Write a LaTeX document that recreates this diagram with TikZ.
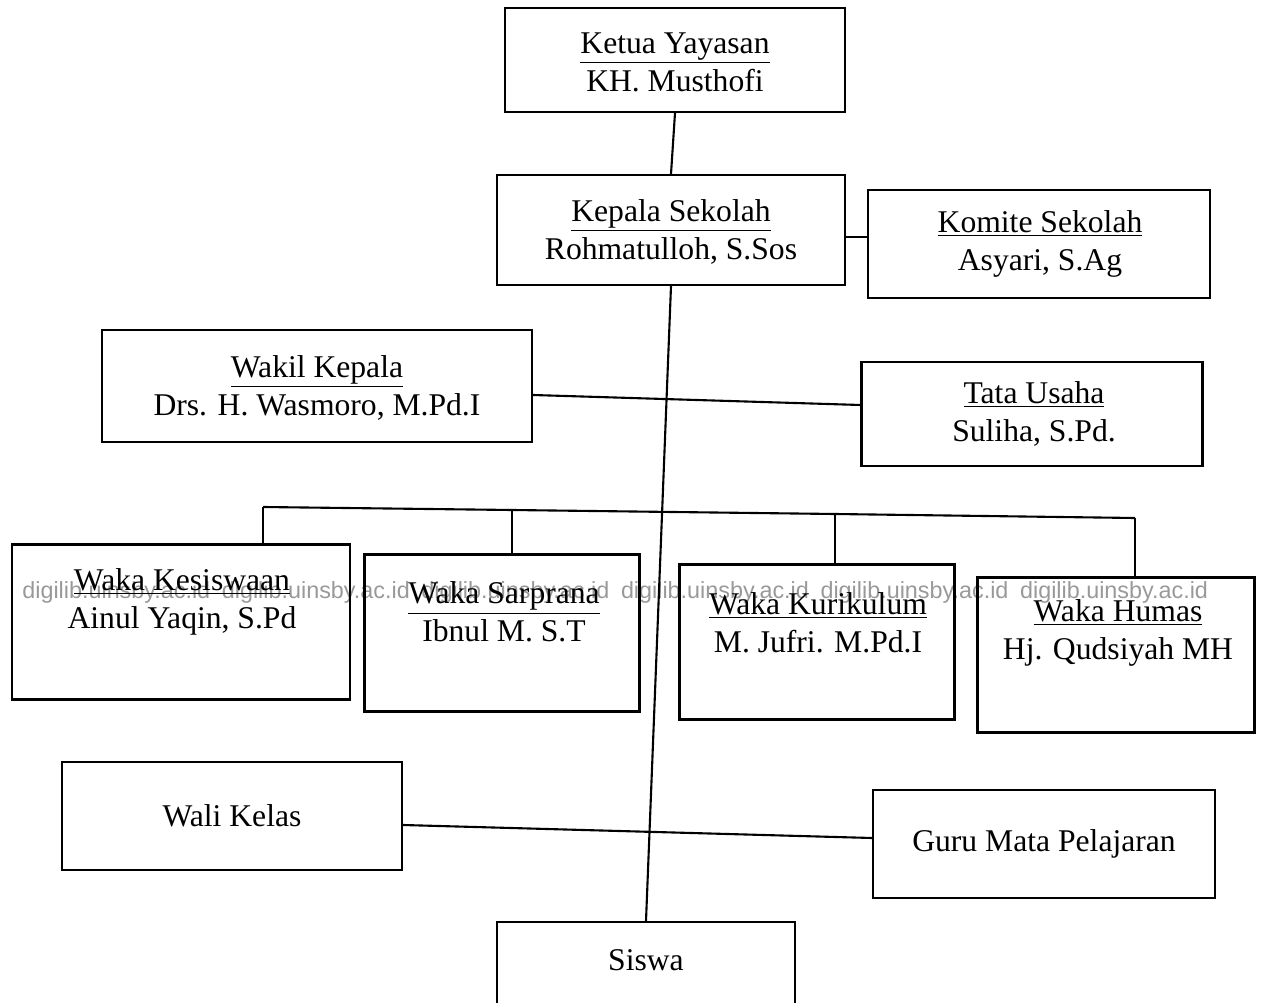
\documentclass[tikz,border=0pt]{standalone}
\usepackage{fontspec}
\setmainfont{Liberation Serif}
\newfontfamily\wmfont{Liberation Sans}
\begin{document}
\begin{tikzpicture}[x=0.02cm,y=-0.02cm,
  box/.style={draw,line width=1.2pt,inner sep=0pt},
  txt/.style={align=center,font=\fontsize{18}{21.5}\selectfont,inner sep=0pt},
  ln/.style={line width=1.2pt}]
\useasboundingbox (0,0) rectangle (1264,1003);
% watermark
\node[font=\wmfont\fontsize{13.3}{15}\selectfont,text=black!40,anchor=west,inner sep=0pt] (wm) at (22,592)
  {digilib.uinsby.ac.id\enspace digilib.uinsby.ac.id\enspace digilib.uinsby.ac.id\enspace digilib.uinsby.ac.id\enspace digilib.uinsby.ac.id\enspace digilib.uinsby.ac.id};
% boxes
\node[box,minimum width=6.8cm,minimum height=2.08cm] (ketua) at (675,60) {};
\node[box,minimum width=6.96cm,minimum height=2.2cm] (kepala) at (671,230) {};
\node[box,minimum width=6.84cm,minimum height=2.16cm] (komite) at (1039,244) {};
\node[box,minimum width=8.6cm,minimum height=2.24cm] (wakil) at (317,386) {};
\node[box,minimum width=6.82cm,minimum height=2.08cm] (tata) at (1032,414) {};
\node[box,minimum width=6.76cm,minimum height=3.1cm] (kes) at (181,622) {};
\node[box,minimum width=5.5cm,minimum height=3.14cm] (sar) at (502,633) {};
\node[box,minimum width=5.5cm,minimum height=3.1cm] (kur) at (817,642) {};
\node[box,minimum width=5.54cm,minimum height=3.1cm] (hum) at (1116,655) {};
\node[box,minimum width=6.8cm,minimum height=2.16cm] (wali) at (232,816) {};
\node[box,minimum width=6.84cm,minimum height=2.16cm] (guru) at (1044,844) {};
\node[box,minimum width=5.96cm,minimum height=1.76cm] (siswa) at (646,966) {};
% texts
\node[txt] (tketua) at (675,62) {\underline{Ketua Yayasan}\\KH. Musthofi};
\node[txt] (tkepala) at (671,232) {\underline{Kepala Sekolah}\\Rohmatulloh, S.Sos};
\node[txt] (tkomite) at (1040,244) {\underline{Komite Sekolah}\\Asyari, S.Ag};
\node[txt] (twakil) at (317,388) {\underline{Wakil Kepala}\\Drs. H. Wasmoro, M.Pd.I};
\node[txt] (ttata) at (1034,414) {\underline{Tata Usaha}\\Suliha, S.Pd.};
\node[txt] (tkes) at (182,602) {\underline{Waka Kesiswaan}\\Ainul Yaqin, S.Pd};
\node[txt] (tsar) at (504,612) {\underline{Waka Sarprana}\\Ibnul M. S.T};
\node[txt] (tkur) at (818,623) {\underline{Waka Kurikulum}\\M. Jufri. M.Pd.I};
\node[txt] (thum) at (1118,633) {\underline{Waka Humas}\\Hj. Qudsiyah MH};
\node[txt] (twali) at (232,816) {Wali Kelas};
\node[txt] (tguru) at (1044,844) {Guru Mata Pelajaran};
\node[txt] (tsiswa) at (646,960) {Siswa};
% connectors
\coordinate (ykk) at (0,237);
\coordinate (ywl) at (0,395);
\coordinate (ytu) at (0,405);
\coordinate (ywk) at (0,825);
\coordinate (ygm) at (0,838);
\draw[ln] (ketua.south) -- (kepala.north);
\draw[ln] (kepala.east |- ykk) -- (komite.west |- ykk);
\draw[ln] (kepala.south) -- (siswa.north);
\draw[ln] (wakil.east |- ywl) -- (tata.west |- ytu);
\coordinate (b1) at (263,507);
\coordinate (b2) at (512,510);
\coordinate (b3) at (835,514);
\coordinate (b4) at (1135,518);
\draw[ln] (b1) -- (b2) -- (b3) -- (b4);
\draw[ln] (b1) -- (b1 |- kes.north);
\draw[ln] (b2) -- (b2 |- sar.north);
\draw[ln] (b3) -- (b3 |- kur.north);
\draw[ln] (b4) -- (b4 |- hum.north);
\draw[ln] (wali.east |- ywk) -- (guru.west |- ygm);
\end{tikzpicture}
\end{document}
